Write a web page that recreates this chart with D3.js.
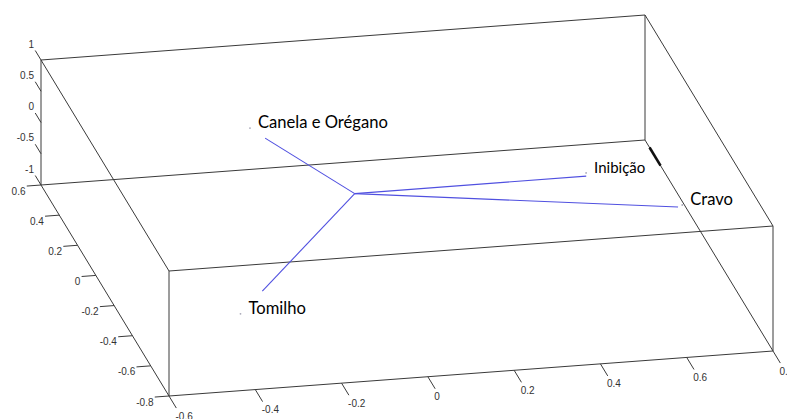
<!DOCTYPE html>
<html>
<head>
<meta charset="utf-8">
<script src="https://cdn.jsdelivr.net/npm/d3@7"></script>
<style>
  html, body { margin: 0; padding: 0; background: #fff; }
  svg { display: block; }
</style>
</head>
<body>
<svg id="chart" width="787" height="419"></svg>
<script>
// ---- Data ----
const xTicks = [-0.6, -0.4, -0.2, 0, 0.2, 0.4, 0.6, 0.8];
const yTicks = [0.6, 0.4, 0.2, 0, -0.2, -0.4, -0.6, -0.8];
const zTicks = [-1, -0.5, 0, 0.5, 1];

const variables = ["Canela e Orégano", "Tomilho", "Inibição", "Cravo"];
// vector tips (biplot coefficients)
const vecX = [-0.124, -0.336, 0.537, 0.699];
const vecY = [0.395, -0.575, 0.002, -0.238];
const vecZ = [0, 0, 0, 0];
// label / point positions
const labX = [-0.144, -0.415, 0.541, 0.711];
const labY = [0.466, -0.709, 0.022, -0.227];
const labZ = [0, 0, 0, 0];

// ---- 3D projection built from D3 linear scales ----
const sx = d3.scaleLinear().domain([-0.6, 0.8]).range([0, 1]);
const sy = d3.scaleLinear().domain([0.6, -0.8]).range([0, 1]);
const sz = d3.scaleLinear().domain([-1, 1]).range([0, 1]);
const O = [41, 185], Ex = [604, -45], Ey = [128, 211], Ez = [0, -125];
function proj(x, y, z) {
  const tx = sx(x), ty = sy(y), tz = sz(z);
  return [O[0] + tx * Ex[0] + ty * Ey[0] + tz * Ez[0],
          O[1] + tx * Ex[1] + ty * Ey[1] + tz * Ez[1]];
}

const svg = d3.select("#chart");
const line = d3.line();
const fmt = v => String(+v.toFixed(2));

// ---- Box edges ----
const [x0, x1] = sx.domain(), [y0, y1] = sy.domain(), [z0, z1] = sz.domain();
const edges = [
  [[x0,y0,z0],[x1,y0,z0]], [[x0,y1,z0],[x1,y1,z0]], [[x0,y0,z1],[x1,y0,z1]], [[x0,y1,z1],[x1,y1,z1]],
  [[x0,y0,z0],[x0,y1,z0]], [[x1,y0,z0],[x1,y1,z0]], [[x0,y0,z1],[x0,y1,z1]], [[x1,y0,z1],[x1,y1,z1]],
  [[x0,y0,z0],[x0,y0,z1]], [[x1,y0,z0],[x1,y0,z1]], [[x0,y1,z0],[x0,y1,z1]], [[x1,y1,z0],[x1,y1,z1]]
];
svg.append("g").selectAll("path").data(edges).join("path")
  .attr("d", e => line(e.map(p => proj(...p))))
  .attr("fill", "none").attr("stroke", "#3a3a3a").attr("stroke-width", 1);

// thick segment on the back-right bottom edge
svg.append("path")
  .attr("d", line([proj(x1, 0.55, z0), proj(x1, 0.43, z0)]))
  .attr("stroke", "#111").attr("stroke-width", 2.6).attr("fill", "none");

// ---- Axes ----
const axisG = svg.append("g").attr("font-family", "Liberation Sans, Arial, sans-serif")
  .attr("font-size", 10).attr("fill", "#333");

// X axis: front-bottom edge (y = -0.8, z = -1), ticks toward the viewer
xTicks.forEach(v => {
  const a = proj(v, y1, z0), b = proj(v, y1 - 0.08, z0);
  axisG.append("path").attr("d", line([a, b])).attr("stroke", "#3a3a3a").attr("fill", "none");
  axisG.append("text").attr("x", a[0] + 6.5).attr("y", a[1] + 21)
    .attr("dominant-baseline", "middle").text(fmt(v));
});
// Y axis: left-bottom edge (x = -0.6, z = -1), ticks toward -x
yTicks.forEach(v => {
  const a = proj(x0, v, z0), b = proj(x0 - 0.033, v, z0);
  axisG.append("path").attr("d", line([a, b])).attr("stroke", "#3a3a3a").attr("fill", "none");
  axisG.append("text").attr("x", a[0] - 15.5).attr("y", a[1] + 7)
    .attr("text-anchor", "end").attr("dominant-baseline", "middle").text(fmt(v));
});
// Z axis: back-left vertical edge (x = -0.6, y = 0.6), ticks toward back
zTicks.forEach(v => {
  const a = proj(x0, y0, v), b = proj(x0, y0 + 0.063, v);
  axisG.append("path").attr("d", line([a, b])).attr("stroke", "#3a3a3a").attr("fill", "none");
  axisG.append("text").attr("x", a[0] - 7).attr("y", a[1] - 15)
    .attr("text-anchor", "end").attr("dominant-baseline", "middle").text(fmt(v));
});

// ---- Biplot vectors ----
const origin = proj(0, 0, 0);
svg.append("g").selectAll("path").data(variables).join("path")
  .attr("d", (d, i) => line([origin, proj(vecX[i], vecY[i], vecZ[i])]))
  .attr("stroke", "#5050e0").attr("stroke-width", 1.1).attr("fill", "none");

// ---- Points and labels ----
const lab = svg.append("g");
variables.forEach((name, i) => {
  const p = proj(labX[i], labY[i], labZ[i]);
  lab.append("circle").attr("cx", p[0]).attr("cy", p[1]).attr("r", 0.9).attr("fill", "#a8a8b8");
  lab.append("text").attr("x", p[0] + 8).attr("y", p[1])
    .attr("font-family", "Lato, 'Open Sans', sans-serif")
    .attr("font-size", name === "Inibição" ? 15 : 16.6)
    .attr("fill", "#000").text(name);
});
</script>
</body>
</html>
